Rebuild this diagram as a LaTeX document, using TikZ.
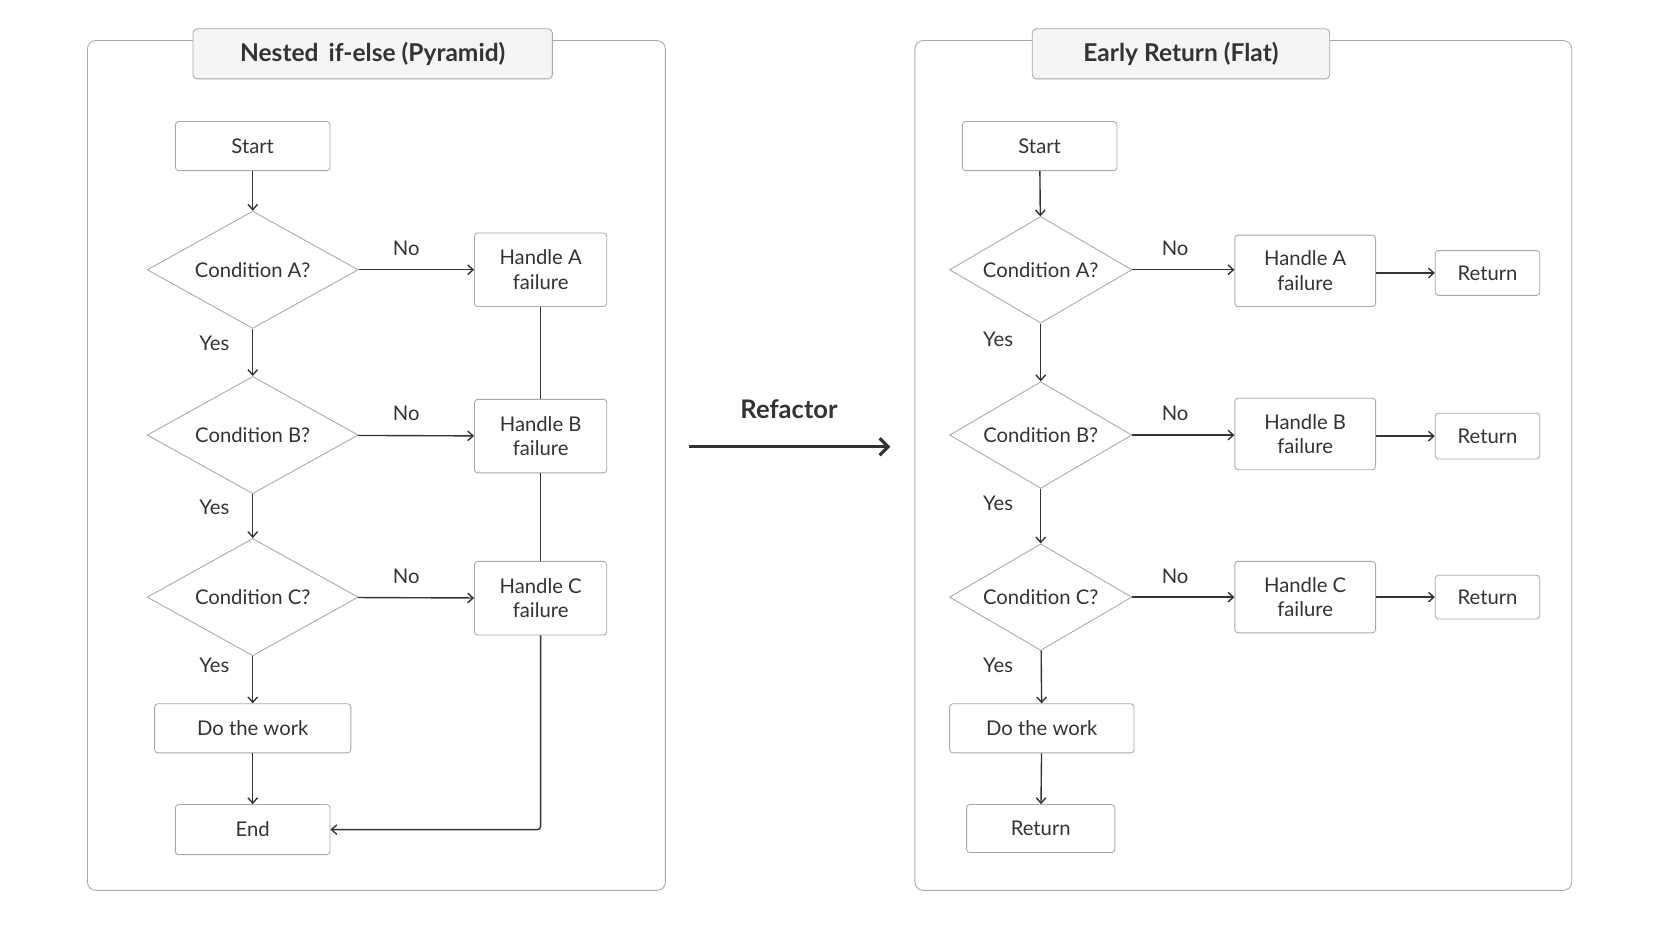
\documentclass[tikz,border=0pt]{standalone}
\usepackage{fontspec}
\setmainfont{Lato}
\usetikzlibrary{shapes.geometric,arrows.meta,positioning}
\definecolor{edge}{HTML}{A8A8A8}
\definecolor{ink}{HTML}{333333}
\begin{document}
\begin{tikzpicture}[x=1pt,y=-1pt,
  font=\fontsize{19}{23}\selectfont,
  process/.style={rectangle, rounded corners=3pt, draw=edge, thick, fill=white, text=ink, align=center, inner sep=0pt},
  decision/.style={diamond, draw=edge, thick, fill=white, text=ink, inner sep=0pt},
  panel/.style={draw=edge, thick, rounded corners=8pt},
  title/.style={rectangle, rounded corners=4pt, draw=edge, thick, fill=gray!8, text=ink, font=\fontsize{23}{27}\selectfont\bfseries, inner sep=0pt},
  arrow/.style={ink, line width=1.3pt, -{Straight Barb[length=5pt,width=9pt]}},
  line/.style={ink, line width=1.3pt},
  lbl/.style={text=ink, inner sep=0pt}]
\useasboundingbox (0,0) rectangle (1568,882);

% panels
\draw[panel] (82,38) rectangle (624,835);
\draw[panel] (858,38) rectangle (1474,835);
\node (titleL) [title, minimum width=337pt, minimum height=47pt] at (349.5,50.5) {Nested\, if-else (Pyramid)};
\node (titleR) [title, minimum width=279pt, minimum height=47pt] at (1107.5,50.5) {Early Return (Flat)};

% left: nested
\node (startL) [process, minimum width=145pt, minimum height=46pt] at (237,137) {Start};
\node (condAL) [decision, aspect=1.8, minimum width=198pt, minimum height=110pt] at (237,253) {Condition A?};
\node (condBL) [decision, aspect=1.8, minimum width=198pt, minimum height=110pt] at (237,408) {Condition B?};
\node (condCL) [decision, aspect=1.8, minimum width=198pt, minimum height=110pt] at (237,560) {Condition C?};
\node (workL) [process, minimum width=184pt, minimum height=46pt] at (237,683) {Do the work};
\node (endL) [process, minimum width=145pt, minimum height=47pt] at (237,778) {End};
\node (failAL) [process, minimum width=124pt, minimum height=69pt] at (507,253) {Handle A\\failure};
\node (failBL) [process, minimum width=124pt, minimum height=69pt] at (507,409) {Handle B\\failure};
\node (failCL) [process, minimum width=124pt, minimum height=69pt] at (507,561) {Handle C\\failure};

\draw [arrow] (startL) -- (condAL);
\draw [arrow] (condAL) -- (condBL);
\draw [arrow] (condBL) -- (condCL);
\draw [arrow] (condCL) -- (workL);
\draw [arrow] (workL) -- (endL);
\draw [arrow] (condAL) -- (failAL);
\draw [arrow] (condBL) -- (failBL);
\draw [arrow] (condCL) -- (failCL);
\draw [line] (failAL) -- (failBL);
\draw [line] (failBL) -- (failCL);
\draw [arrow, rounded corners=3pt] (failCL) |- (endL);
\node [lbl] at (381,233) {No};
\node [lbl] at (381,388) {No};
\node [lbl] at (381,540) {No};
\node [lbl] at (201,322) {Yes};
\node [lbl] at (201,476) {Yes};
\node [lbl] at (201,624) {Yes};

% refactor
\coordinate (refA) at (646,419);
\coordinate (refB) at (835,419);
\draw [ink, line width=3pt, -{Straight Barb[length=8pt,width=16pt]}] (refA) -- (refB);
\node [lbl, font=\fontsize{24}{28}\selectfont\bfseries] at (740,384) {Refactor};

% right: early return
\node (startR) [process, minimum width=145pt, minimum height=46pt] at (975,137) {Start};
\node (condAR) [decision, aspect=1.7, minimum width=171pt, minimum height=100pt] at (976,253) {Condition A?};
\node (condBR) [decision, aspect=1.7, minimum width=171pt, minimum height=100pt] at (976,408) {Condition B?};
\node (condCR) [decision, aspect=1.7, minimum width=171pt, minimum height=100pt] at (976,560) {Condition C?};
\node (workR) [process, minimum width=173pt, minimum height=46pt] at (977,683) {Do the work};
\node (retR) [process, minimum width=139pt, minimum height=45pt] at (976,777) {Return};
\node (failAR) [process, minimum width=132pt, minimum height=67pt] at (1224,254) {Handle A\\failure};
\node (failBR) [process, minimum width=132pt, minimum height=67pt] at (1224,407) {Handle B\\failure};
\node (failCR) [process, minimum width=132pt, minimum height=67pt] at (1224,560) {Handle C\\failure};
\node (retA) [process, minimum width=98pt, minimum height=42pt] at (1395,256) {Return};
\node (retB) [process, minimum width=98pt, minimum height=43pt] at (1395,409) {Return};
\node (retC) [process, minimum width=98pt, minimum height=41pt] at (1395,560) {Return};

\draw [arrow] (startR) -- (condAR);
\draw [arrow] (condAR) -- (condBR);
\draw [arrow] (condBR) -- (condCR);
\draw [arrow] (condCR) -- (workR);
\draw [arrow] (workR) -- (retR);
\draw [arrow] (condAR.east) -- (condAR.east -| failAR.west);
\draw [arrow] (condBR.east) -- (condBR.east -| failBR.west);
\draw [arrow] (condCR) -- (failCR);
\draw [arrow] (failAR.east |- retA) -- (retA);
\draw [arrow] (failBR.east |- retB) -- (retB);
\draw [arrow] (failCR) -- (retC);
\node [lbl] at (1102,233) {No};
\node [lbl] at (1102,388) {No};
\node [lbl] at (1102,540) {No};
\node [lbl] at (936,318) {Yes};
\node [lbl] at (936,472) {Yes};
\node [lbl] at (936,624) {Yes};
\end{tikzpicture}
\end{document}
